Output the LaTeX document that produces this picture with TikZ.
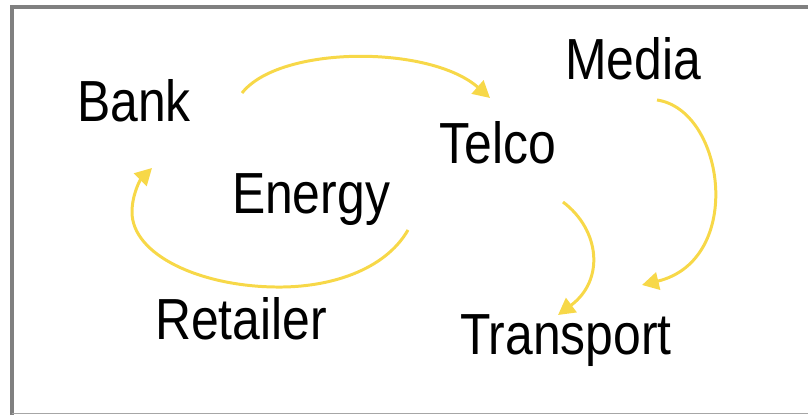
\documentclass[tikz,border=0pt]{standalone}
\usepackage{fontspec}
\usepackage{xcolor}
\definecolor{LoopYellow}{RGB}{247,216,72}
\definecolor{FrameGray}{RGB}{128,128,128}
\newfontfamily\sectorfont{Liberation Sans}[FakeStretch=0.86]
\usepackage{tikz}
\usetikzlibrary{arrows.meta, positioning, calc}

\tikzset{
  sector/.style={font=\sectorfont\fontsize{33pt}{36pt}\selectfont, inner sep=0pt, anchor=base},
  flow/.style={LoopYellow, line width=1.7pt, -{Triangle[length=9.5pt, width=10pt]}}
}

\begin{document}
\begin{tikzpicture}[x=0.02cm, y=-0.02cm]
      \useasboundingbox (0,0) rectangle (808,415);

      % frame
      \draw[FrameGray, line width=2.8pt] (12,415) -- (12,7) -- (808,7);
      \draw[FrameGray!70, line width=0.6pt] (12,413.5) -- (808,413.5);

      % sectors
      \node[sector] (bank) at (134,122) {Bank};
      \node[sector] (media) at (633,80) {Media};
      \node[sector] (telco) at (498,164) {Telco};
      \node[sector] (energy) at (311,214) {Energy};
      \node[sector] (retailer) at (241,339) {Retailer};
      \node[sector] (transport) at (566,354) {Transport};

      % arrow ends
      \coordinate (bankout) at (242,93);
      \coordinate (telcoin) at (490,98);
      \coordinate (energyout) at (408,230);
      \coordinate (bankin) at (152,168);
      \coordinate (telcoout) at (563,202);
      \coordinate (transin) at (558,315);
      \coordinate (mediaout) at (657,100);
      \coordinate (transin2) at (642,285);

      % flows
      \draw[flow] (bankout) .. controls (280,45) and (430,45) .. (telcoin);
      \draw[flow] (energyout) .. controls (385,270) and (330,288) .. (275,287)
                  .. controls (200,286) and (132,255) .. (132,212)
                  .. controls (132,195) and (140,180) .. (bankin);
      \draw[flow] (telcoout) .. controls (600,230) and (605,280) .. (transin);
      \draw[flow] (mediaout) .. controls (725,110) and (745,260) .. (transin2);

    \end{tikzpicture}
\end{document}
